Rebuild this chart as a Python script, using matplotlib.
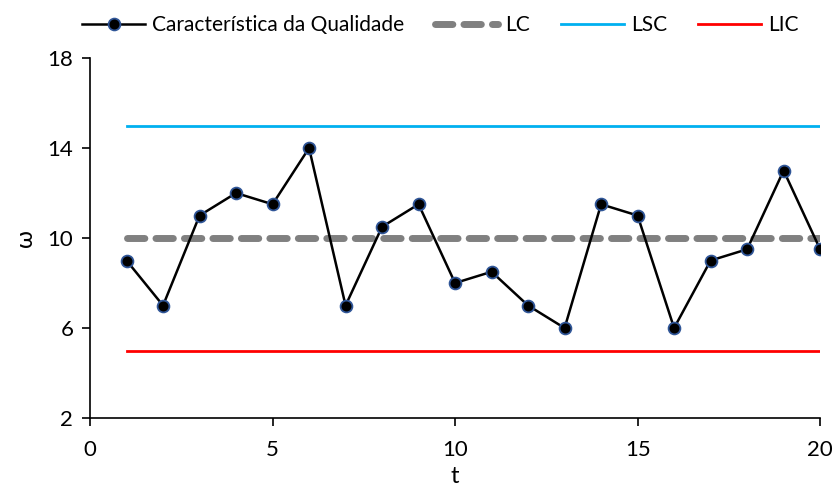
import matplotlib
matplotlib.use("Agg")
from matplotlib import pyplot as plt

# dados do grafico de controle
t = list(range(1, 21))
w = [9, 7, 11, 12, 11.5, 14, 7, 10.5, 11.5, 8, 8.5, 7, 6, 11.5, 11, 6, 9, 9.5, 13, 9.5]
lc = 10
lsc = 15
lic = 5

plt.rcParams['font.family'] = ['Lato', 'DejaVu Sans']

fig = plt.figure(figsize=(8.36, 4.88), dpi=100)
ax = fig.add_axes([0.1077, 0.1434, 0.8733, 0.7377])

ax.plot(t, w, color='black', linewidth=1.8, marker='o', markersize=8.5,
        markerfacecolor='black', markeredgecolor='#2f5597', markeredgewidth=1.3,
        label='Característica da Qualidade', zorder=4)
ax.plot([1, 20], [lc, lc], color='#808080', linewidth=5, linestyle=(0, (2.5, 1.6)),
        dash_capstyle='round', label='LC', zorder=3)
ax.plot([1, 20], [lsc, lsc], color='#00b0f0', linewidth=2, label='LSC')
ax.plot([1, 20], [lic, lic], color='#ff0000', linewidth=2, label='LIC')

ax.set_xlim(0, 20)
ax.set_ylim(2, 18)
ax.set_xticks([0, 5, 10, 15, 20])
ax.set_yticks([2, 6, 10, 14, 18])
ax.spines['top'].set_visible(False)
ax.spines['right'].set_visible(False)
ax.tick_params(direction='out', length=6, width=1.2, labelsize=16)
ax.tick_params(axis='x', pad=10)
ax.tick_params(axis='y', pad=6)
ax.spines['left'].set_linewidth(1.2)
ax.spines['bottom'].set_linewidth(1.2)
ax.set_xlabel('t', fontsize=17, labelpad=4)
ax.set_ylabel('ω', fontsize=17, labelpad=8)

ax.legend(loc='lower center', bbox_to_anchor=(0.48, 1.04), ncol=4, frameon=False,
          fontsize=15, handlelength=3, columnspacing=1.5, handletextpad=0.35,
          borderaxespad=0)

fig.savefig('out.png', dpi=100)
